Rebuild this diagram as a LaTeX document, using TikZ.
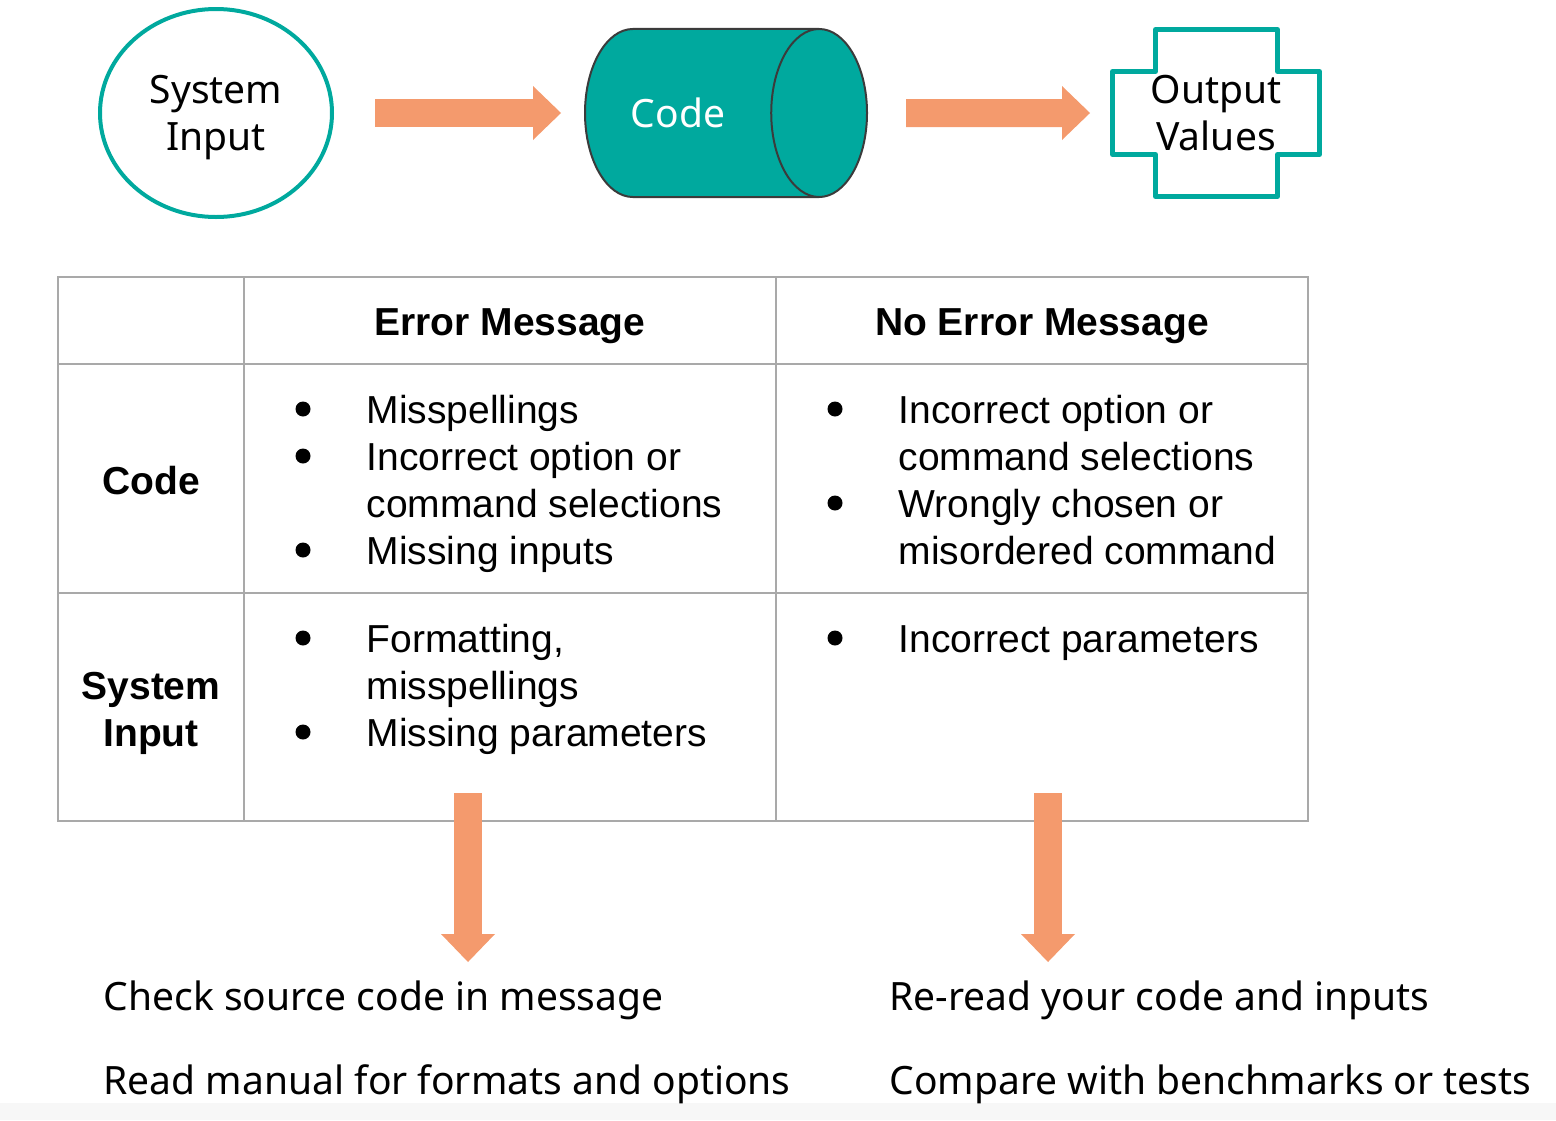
\documentclass[tikz,border=0pt]{standalone}
\usepackage{fontspec}
\setmainfont{Liberation Sans}
\newfontfamily\slidefont{Noto Sans}
\usetikzlibrary{shapes.geometric,arrows.meta}

\definecolor{tealc}{HTML}{00A99E}
\definecolor{arrowc}{HTML}{F49A6D}
\definecolor{gridc}{HTML}{A9A9A9}
\definecolor{rimc}{HTML}{3B3B3B}

\newcommand{\txtsize}{\fontsize{11.1pt}{13.37pt}\selectfont}

\tikzset{
  bigarrow/.style={draw=arrowc, line width=0.28cm,
    -{Triangle[width=0.54cm,length=0.28cm,line width=0pt]}},
  slidetext/.style={font=\slidefont\txtsize, align=center},
  celltext/.style={font=\txtsize, anchor=base west, inner sep=0pt},
  headtext/.style={font=\txtsize\bfseries, anchor=base, inner sep=0pt},
  bullet/.style={circle, fill=black, inner sep=0pt, minimum size=0.15cm},
  gridline/.style={draw=gridc, line width=0.02cm},
  crossline/.style={draw=tealc, line width=0.05cm, line join=round},
  bottomtext/.style={font=\slidefont\txtsize, anchor=base west, inner sep=0pt}
}

\begin{document}
\begin{tikzpicture}[y=-1cm]
\useasboundingbox (0,0) rectangle (15.56,11.20);
\fill[black!3] (0,11.03) rectangle (15.56,11.20);

% top row
\node[ellipse, draw=tealc, line width=0.04cm, minimum width=2.32cm,
  minimum height=2.08cm, inner sep=0pt] (sysin) at (2.16,1.13) {};
\node[slidetext] (sysintxt) at (2.16,1.175) {System\\Input};
\node[cylinder, aspect=0.57, draw=rimc, fill=tealc, line width=0.02cm,
  inner xsep=0pt, inner ysep=0.69cm, minimum height=2.82cm, minimum width=1.66cm,
  slidetext, text=white] (code) at (6.78,1.13) {Code};
\node[minimum width=2.12cm, minimum height=1.70cm, inner sep=0pt, outer sep=0pt,
  slidetext] (outval) at (12.16,1.13) {Output\\Values};
\draw[crossline] (11.555,0.295) -- (12.775,0.295) -- (12.775,0.715) -- (13.195,0.715)
  -- (13.195,1.545) -- (12.775,1.545) -- (12.775,1.965) -- (11.555,1.965)
  -- (11.555,1.545) -- (11.125,1.545) -- (11.125,0.715) -- (11.555,0.715) -- cycle;

\draw[bigarrow, shorten <=0.41cm, shorten >=0.23cm] (sysin.east) -- (code.west);
\draw[bigarrow, shorten <=0.38cm, shorten >=0.20cm] (code.east) -- (outval.west);

% table
\draw[gridline] (0.58,2.77) rectangle (13.08,8.21);
\draw[gridline] (2.44,2.77) -- (2.44,8.21);
\draw[gridline] (7.76,2.77) -- (7.76,8.21);
\draw[gridline] (0.58,3.64) -- (13.08,3.64);
\draw[gridline] (0.58,5.93) -- (13.08,5.93);

\node[headtext] (herr) at (5.10,3.35) {Error Message};
\node[headtext] (hnoerr) at (10.42,3.35) {No Error Message};
\node[headtext] (rcode) at (1.51,4.94) {Code};
\node[headtext] (rsys) at (1.51,6.99) {System};
\node[headtext] (rinp) at (1.51,7.46) {Input};

\foreach \y/\t [count=\i] in {4.23/Misspellings, 4.70/Incorrect option or,
    5.17/command selections, 5.64/Missing inputs, 6.52/{Formatting,},
    6.99/misspellings, 7.46/Missing parameters}
  \node[celltext] (el\i) at (3.66,\y) {\t};
\foreach \y/\t [count=\i] in {4.23/Incorrect option or, 4.70/command selections,
    5.17/Wrongly chosen or, 5.64/misordered command, 6.52/Incorrect parameters}
  \node[celltext] (nl\i) at (8.98,\y) {\t};
\foreach \x/\y [count=\i] in {3.03/4.09, 3.03/4.56, 3.03/5.50, 3.03/6.38,
    3.03/7.32, 8.35/4.09, 8.35/5.03, 8.35/6.38}
  \node[bullet] (b\i) at (\x,\y) {};

% down arrows
\coordinate (d1s) at (4.68,7.93);
\coordinate (d1e) at (4.68,9.62);
\coordinate (d2s) at (10.48,7.93);
\coordinate (d2e) at (10.48,9.62);
\draw[bigarrow] (d1s) -- (d1e);
\draw[bigarrow] (d2s) -- (d2e);

\node[bottomtext] (chk) at (1.03,10.10) {Check source code in message};
\node[bottomtext] (rdm) at (1.03,10.94) {Read manual for formats and options};
\node[bottomtext] (rer) at (8.89,10.10) {Re-read your code and inputs};
\node[bottomtext] (cmp) at (8.89,10.94) {Compare with benchmarks or tests};
\end{tikzpicture}
\end{document}
